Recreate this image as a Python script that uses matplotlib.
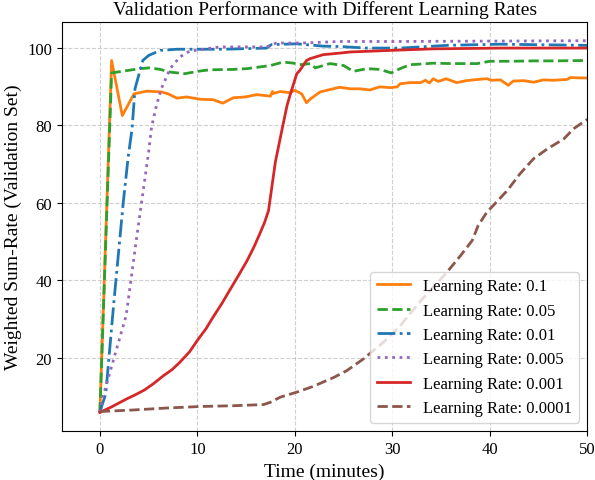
import matplotlib
matplotlib.use("Agg")
import matplotlib.pyplot as plt

plt.rcParams["font.family"] = ["Liberation Serif", "DejaVu Serif"]

# learning rate 0.1
t_01 = [0, 1.2, 2.3, 3.5, 4.8, 6.3, 7.0, 7.9, 8.9, 10.3, 11.6, 12.6, 13.7, 14.9, 16.1,
        17.5, 17.7, 17.8, 18.5, 19.5, 20.0, 20.7, 21.2, 21.6, 22.6, 23.6, 24.6, 25.7,
        26.7, 27.7, 28.7, 29.8, 30.5, 30.8, 31.8, 32.9, 33.4, 33.8, 34.2, 34.7, 35.2,
        35.5, 36.6, 37.6, 38.7, 39.7, 40.2, 41.1, 41.9, 42.4, 43.5, 44.5, 45.5, 46.5,
        47.9, 48.3, 49.3, 50.0]
v_01 = [6.0, 96.7, 82.5, 88.1, 88.8, 88.6, 88.1, 87.0, 87.3, 86.7, 86.6, 85.7, 87.1,
        87.3, 87.9, 87.5, 88.7, 88.2, 88.7, 88.4, 89.0, 88.1, 85.8, 86.8, 88.6, 89.2,
        89.8, 89.4, 89.4, 89.1, 89.9, 89.7, 89.9, 90.7, 91.0, 91.0, 91.6, 90.9, 92.0,
        91.3, 91.7, 92.0, 91.0, 91.5, 91.8, 92.0, 91.6, 91.7, 90.3, 91.4, 91.5, 91.1,
        91.7, 91.6, 91.8, 92.3, 92.2, 92.2]

# learning rate 0.05
t_005 = [0, 1.2, 4.1, 5.1, 6.2, 7.2, 8.7, 10.3, 11.3, 13.7, 15.1, 17.5, 18.8, 19.9,
         20.5, 21.6, 22.1, 23.6, 25.0, 26.0, 27.4, 28.7, 29.9, 30.8, 31.8, 34.2, 36.2,
         38.7, 40.0, 42.1, 44.5, 46.6, 50.0]
v_005 = [6.0, 93.5, 94.6, 94.8, 94.4, 93.7, 93.3, 94.0, 94.3, 94.4, 94.6, 95.4, 96.3,
         96.0, 95.6, 95.9, 94.8, 95.9, 95.4, 93.9, 94.6, 94.4, 93.5, 94.6, 95.6, 96.0,
         95.9, 95.9, 96.5, 96.5, 96.6, 96.6, 96.7]

# learning rate 0.01
t_001 = [0, 0.2, 0.6, 1.4, 2.4, 2.9, 3.3, 3.6, 4.4, 5.0, 6.2, 7.9, 10.3, 12.7, 17.1,
         17.6, 20.2, 22.9, 24.6, 27.4, 30.8, 35.6, 41.1, 50.0]
v_001 = [6.0, 7.7, 10.7, 33.5, 60.2, 71.8, 79.1, 89.4, 96.7, 98.0, 99.3, 99.6, 99.6,
         99.6, 99.9, 100.8, 101.0, 100.4, 100.3, 99.9, 99.9, 100.6, 100.9, 100.6]

# learning rate 0.005
t_0005 = [0, 0.3, 2.7, 3.8, 5.0, 5.3, 5.8, 6.3, 7.2, 8.2, 9.2, 10.6, 12.3, 17.1, 18.1,
          20.8, 24.6, 30.0, 40.0, 50.0]
v_0005 = [6.0, 9.9, 31.0, 51.6, 73.1, 79.5, 85.1, 89.4, 94.6, 97.6, 99.1, 99.6, 100.2,
          100.2, 101.2, 101.2, 101.6, 101.6, 101.7, 101.8]

# learning rate 0.001
t_0001 = [0, 1.2, 2.7, 3.7, 4.6, 5.5, 6.5, 7.4, 8.2, 9.2, 10.1, 10.9, 11.6, 12.5, 13.3,
          14.2, 15.1, 15.8, 16.4, 16.9, 17.3, 18.0, 18.7, 19.2, 19.5, 20.2, 20.5, 21.2,
          21.6, 22.9, 24.6, 25.7, 29.8, 34.2, 41.1, 50.0]
v_0001 = [6.0, 7.4, 9.4, 10.6, 11.8, 13.4, 15.4, 17.0, 18.9, 21.6, 24.9, 27.6, 30.5,
          34.0, 37.4, 41.2, 45.1, 48.6, 52.0, 55.0, 58.0, 70.5, 79.1, 85.1, 87.7, 93.3,
          94.1, 96.7, 97.2, 98.2, 98.6, 98.9, 99.3, 99.7, 99.9, 99.9]

# learning rate 0.0001
t_00001 = [0, 3.4, 6.8, 10.3, 13.7, 16.8, 17.5, 18.5, 20.2, 21.9, 24.0, 25.3, 27.0,
           29.1, 30.8, 33.0, 35.6, 37.0, 38.2, 38.8, 39.7, 40.5, 41.8, 43.1, 44.5, 45.9,
           47.6, 48.6, 49.8, 50.0]
v_00001 = [6.2, 6.6, 7.1, 7.5, 7.7, 8.0, 8.6, 9.9, 11.2, 12.7, 15.0, 16.7, 19.7, 24.1,
           28.3, 35.0, 42.1, 46.4, 50.3, 54.1, 57.6, 59.7, 63.2, 67.5, 71.4, 73.9, 76.5,
           79.1, 81.2, 81.5]

fig, ax = plt.subplots(figsize=(5.95, 4.81), dpi=100)
fig.subplots_adjust(left=0.104, right=0.987, top=0.952, bottom=0.102)

lw = 2
ax.plot(t_01, v_01, color="tab:orange", linestyle="-", lw=lw, label="Learning Rate: 0.1")
ax.plot(t_005, v_005, color="tab:green", linestyle="--", lw=lw, label="Learning Rate: 0.05")
ax.plot(t_001, v_001, color="tab:blue", linestyle="-.", lw=lw, label="Learning Rate: 0.01")
ax.plot(t_0005, v_0005, color="tab:purple", linestyle=":", lw=lw, label="Learning Rate: 0.005")
ax.plot(t_0001, v_0001, color="tab:red", linestyle="-", lw=lw, label="Learning Rate: 0.001")
ax.plot(t_00001, v_00001, color="tab:brown", linestyle="--", lw=lw, label="Learning Rate: 0.0001")

ax.set_xlim(-3.9, 50)
ax.set_ylim(1.2, 106.6)
ax.set_xticks([0, 10, 20, 30, 40, 50])
ax.set_yticks([20, 40, 60, 80, 100])
ax.tick_params(labelsize=12)

ax.set_title("Validation Performance with Different Learning Rates", fontsize=14)
ax.set_xlabel("Time (minutes)", fontsize=14)
ax.set_ylabel("Weighted Sum-Rate (Validation Set)", fontsize=14)
ax.grid(True, linestyle="--", alpha=0.6)
ax.legend(loc="lower right", fontsize=12)

fig.savefig("out.png")
